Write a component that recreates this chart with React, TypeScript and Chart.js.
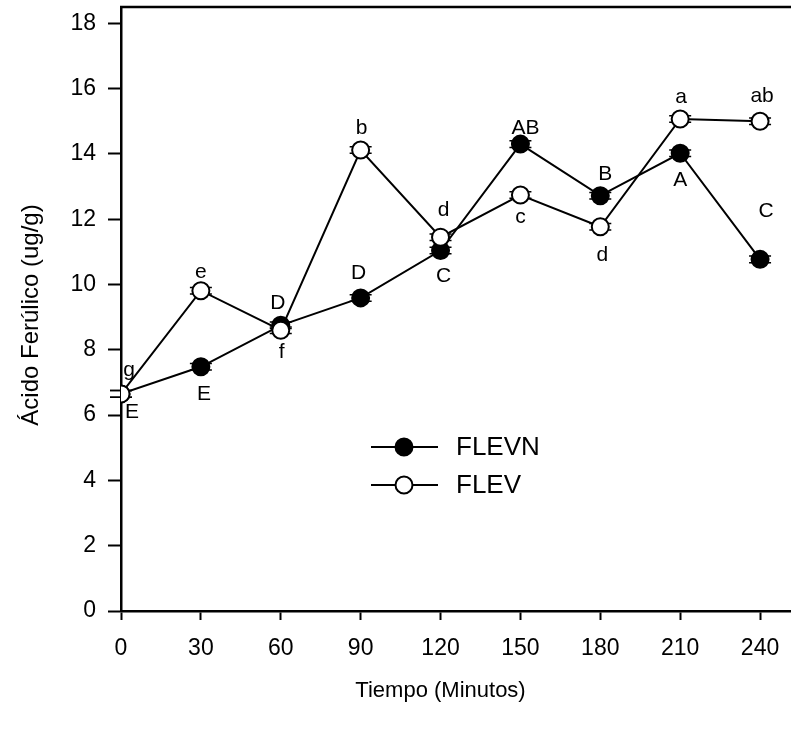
import React, { useEffect, useRef } from "react";
import { Chart, registerables } from "chart.js";

Chart.register(...registerables);

const times = [0, 30, 60, 90, 120, 150, 180, 210, 240];
const flevnValues = [6.65, 7.48, 8.75, 9.59, 11.04, 14.3, 12.72, 14.02, 10.77];
const flevValues = [6.65, 9.81, 8.6, 14.12, 11.45, 12.74, 11.77, 15.07, 15.0];
const flevnErrors = [0.1, 0.1, 0.1, 0.1, 0.1, 0.1, 0.1, 0.1, 0.1];
const flevErrors = [0.1, 0.1, 0.1, 0.1, 0.1, 0.1, 0.1, 0.1, 0.1];
const flevnLetters = ["E", "E", "D", "D", "C", "AB", "B", "A", "C"];
const flevLetters = ["g", "e", "f", "b", "d", "c", "d", "a", "ab"];
const xTickValues = [0, 30, 60, 90, 120, 150, 180, 210, 240];
const yTickValues = [0, 2, 4, 6, 8, 10, 12, 14, 16, 18];

// label offsets in px (style, not data)
const flevnLabelOffsets = [
  [11, 18], [3, 27], [-3, -22], [-2, -25], [3, 26], [5, -16], [5, -22], [0, 27], [6, -48],
];
const flevLabelOffsets = [
  [8, -24], [0, -19], [1, 22], [1, -22], [3, -27], [0, 22], [2, 28], [1, -22], [2, -25],
];

const FONT = "Arial, 'Liberation Sans', sans-serif";
const CANVAS_W = 800;
const CANVAS_H = 738;
const VIEW_W = 791;

export default function App() {
  const ref = useRef<HTMLCanvasElement | null>(null);

  useEffect(() => {
    const canvas = ref.current;
    if (!canvas) return;

    const extras = {
      id: "extras",
      beforeDatasetsDraw(chart: any) {
        const ctx = chart.ctx;
        const xs = chart.scales.x;
        const ys = chart.scales.y;
        ctx.save();
        ctx.strokeStyle = "#000";
        ctx.lineWidth = 1.5;
        const drawErr = (vals: number[], errs: number[]) => {
          vals.forEach((v, i) => {
            const px = xs.getPixelForValue(times[i]);
            const y1 = ys.getPixelForValue(v + errs[i]);
            const y2 = ys.getPixelForValue(v - errs[i]);
            ctx.beginPath();
            ctx.moveTo(px, y1);
            ctx.lineTo(px, y2);
            ctx.moveTo(px - 11, y1);
            ctx.lineTo(px + 11, y1);
            ctx.moveTo(px - 11, y2);
            ctx.lineTo(px + 11, y2);
            ctx.stroke();
          });
        };
        drawErr(flevnValues, flevnErrors);
        drawErr(flevValues, flevErrors);
        ctx.restore();
      },
      afterDatasetsDraw(chart: any) {
        const ctx = chart.ctx;
        const xs = chart.scales.x;
        const ys = chart.scales.y;
        const ca = chart.chartArea;
        ctx.save();
        // top border
        ctx.strokeStyle = "#000";
        ctx.lineWidth = 2.5;
        ctx.beginPath();
        ctx.moveTo(ca.left - 1, ca.top);
        ctx.lineTo(ca.right, ca.top);
        ctx.stroke();

        // point letters
        ctx.fillStyle = "#000";
        ctx.font = `21px ${FONT}`;
        ctx.textAlign = "center";
        ctx.textBaseline = "middle";
        flevnValues.forEach((v, i) => {
          const px = xs.getPixelForValue(times[i]);
          const py = ys.getPixelForValue(v);
          ctx.fillText(flevnLetters[i], px + flevnLabelOffsets[i][0], py + flevnLabelOffsets[i][1]);
        });
        flevValues.forEach((v, i) => {
          const px = xs.getPixelForValue(times[i]);
          const py = ys.getPixelForValue(v);
          ctx.fillText(flevLetters[i], px + flevLabelOffsets[i][0], py + flevLabelOffsets[i][1]);
        });

        // legend
        const legendItems = [
          { label: "FLEVN", fill: "#000", y: 447 },
          { label: "FLEV", fill: "#fff", y: 485 },
        ];
        legendItems.forEach((it) => {
          ctx.strokeStyle = "#000";
          ctx.lineWidth = 2;
          ctx.beginPath();
          ctx.moveTo(371, it.y);
          ctx.lineTo(438, it.y);
          ctx.stroke();
          ctx.beginPath();
          ctx.arc(404, it.y, 8.5, 0, Math.PI * 2);
          ctx.fillStyle = it.fill;
          ctx.fill();
          ctx.stroke();
          ctx.fillStyle = "#000";
          ctx.font = `26px ${FONT}`;
          ctx.textAlign = "left";
          ctx.textBaseline = "middle";
          ctx.fillText(it.label, 456, it.y + 1);
        });

        // axis titles
        ctx.font = `22px ${FONT}`;
        ctx.textAlign = "center";
        ctx.textBaseline = "middle";
        ctx.fillText("Tiempo (Minutos)", xs.getPixelForValue(120), 691);
        ctx.save();
        ctx.font = `24px ${FONT}`;
        ctx.translate(31, 315);
        ctx.rotate(-Math.PI / 2);
        ctx.fillText("Ácido Ferúlico (ug/g)", 0, 0);
        ctx.restore();
        ctx.restore();
      },
      afterDraw(chart: any) {
        // keep the right side open (no frame on the right)
        const ctx = chart.ctx;
        const ca = chart.chartArea;
        ctx.save();
        ctx.fillStyle = "#fff";
        ctx.fillRect(VIEW_W - 4, ca.top + 2, CANVAS_W, ca.bottom - ca.top - 4);
        ctx.restore();
      },
    };

    const chart = new Chart(canvas, {
      type: "line",
      data: {
        datasets: [
          {
            label: "FLEV",
            data: times.map((t, i) => ({ x: t, y: flevValues[i] })),
            borderColor: "#000",
            borderWidth: 2,
            backgroundColor: "#fff",
            pointBackgroundColor: "#fff",
            pointBorderColor: "#000",
            pointBorderWidth: 2,
            pointRadius: 8.5,
            tension: 0,
            order: 0,
          },
          {
            label: "FLEVN",
            data: times.map((t, i) => ({ x: t, y: flevnValues[i] })),
            borderColor: "#000",
            borderWidth: 2,
            backgroundColor: "#000",
            pointBackgroundColor: "#000",
            pointBorderColor: "#000",
            pointBorderWidth: 2,
            pointRadius: 8.5,
            tension: 0,
            order: 1,
          },
        ],
      },
      options: {
        responsive: false,
        animation: false,
        devicePixelRatio: 1,
        layout: { autoPadding: false, padding: { top: 7, left: 0, right: 0, bottom: 0 } },
        plugins: {
          legend: { display: false },
          tooltip: { enabled: false },
          title: { display: false },
        },
        scales: {
          x: {
            type: "linear",
            min: 0,
            max: 255,
            afterFit: (s: any) => {
              s.height = 127;
              s.paddingLeft = 0;
              s.paddingRight = 0;
            },
            afterBuildTicks: (s: any) => {
              s.ticks = xTickValues.map((v) => ({ value: v }));
            },
            ticks: {
              stepSize: 30,
              includeBounds: false,
              color: "#000",
              font: { size: 23, family: FONT },
              padding: 15,
              maxRotation: 0,
              autoSkip: false,
            },
            grid: {
              drawOnChartArea: false,
              drawTicks: true,
              tickLength: 9,
              tickColor: "#000",
              tickWidth: 2,
            },
            border: { color: "#000", width: 2.5 },
          },
          y: {
            type: "linear",
            min: 0,
            max: 18.5,
            afterFit: (s: any) => {
              s.width = 121;
              s.paddingTop = 0;
              s.paddingBottom = 0;
            },
            afterBuildTicks: (s: any) => {
              s.ticks = yTickValues.map((v) => ({ value: v }));
            },
            ticks: {
              stepSize: 2,
              includeBounds: false,
              color: "#000",
              font: { size: 23, family: FONT },
              padding: 12,
              autoSkip: false,
            },
            grid: {
              drawOnChartArea: false,
              drawTicks: true,
              tickLength: 13,
              tickColor: "#000",
              tickWidth: 2,
            },
            border: { color: "#000", width: 2.5 },
          },
        },
      },
      plugins: [extras],
    } as any);

    return () => chart.destroy();
  }, []);

  return (
    <div style={{ position: "fixed", left: 0, top: 0, width: VIEW_W, height: 738, overflow: "hidden" }}>
      <canvas
        ref={ref}
        width={CANVAS_W}
        height={CANVAS_H}
        style={{ display: "block", width: CANVAS_W, height: CANVAS_H }}
      />
    </div>
  );
}
